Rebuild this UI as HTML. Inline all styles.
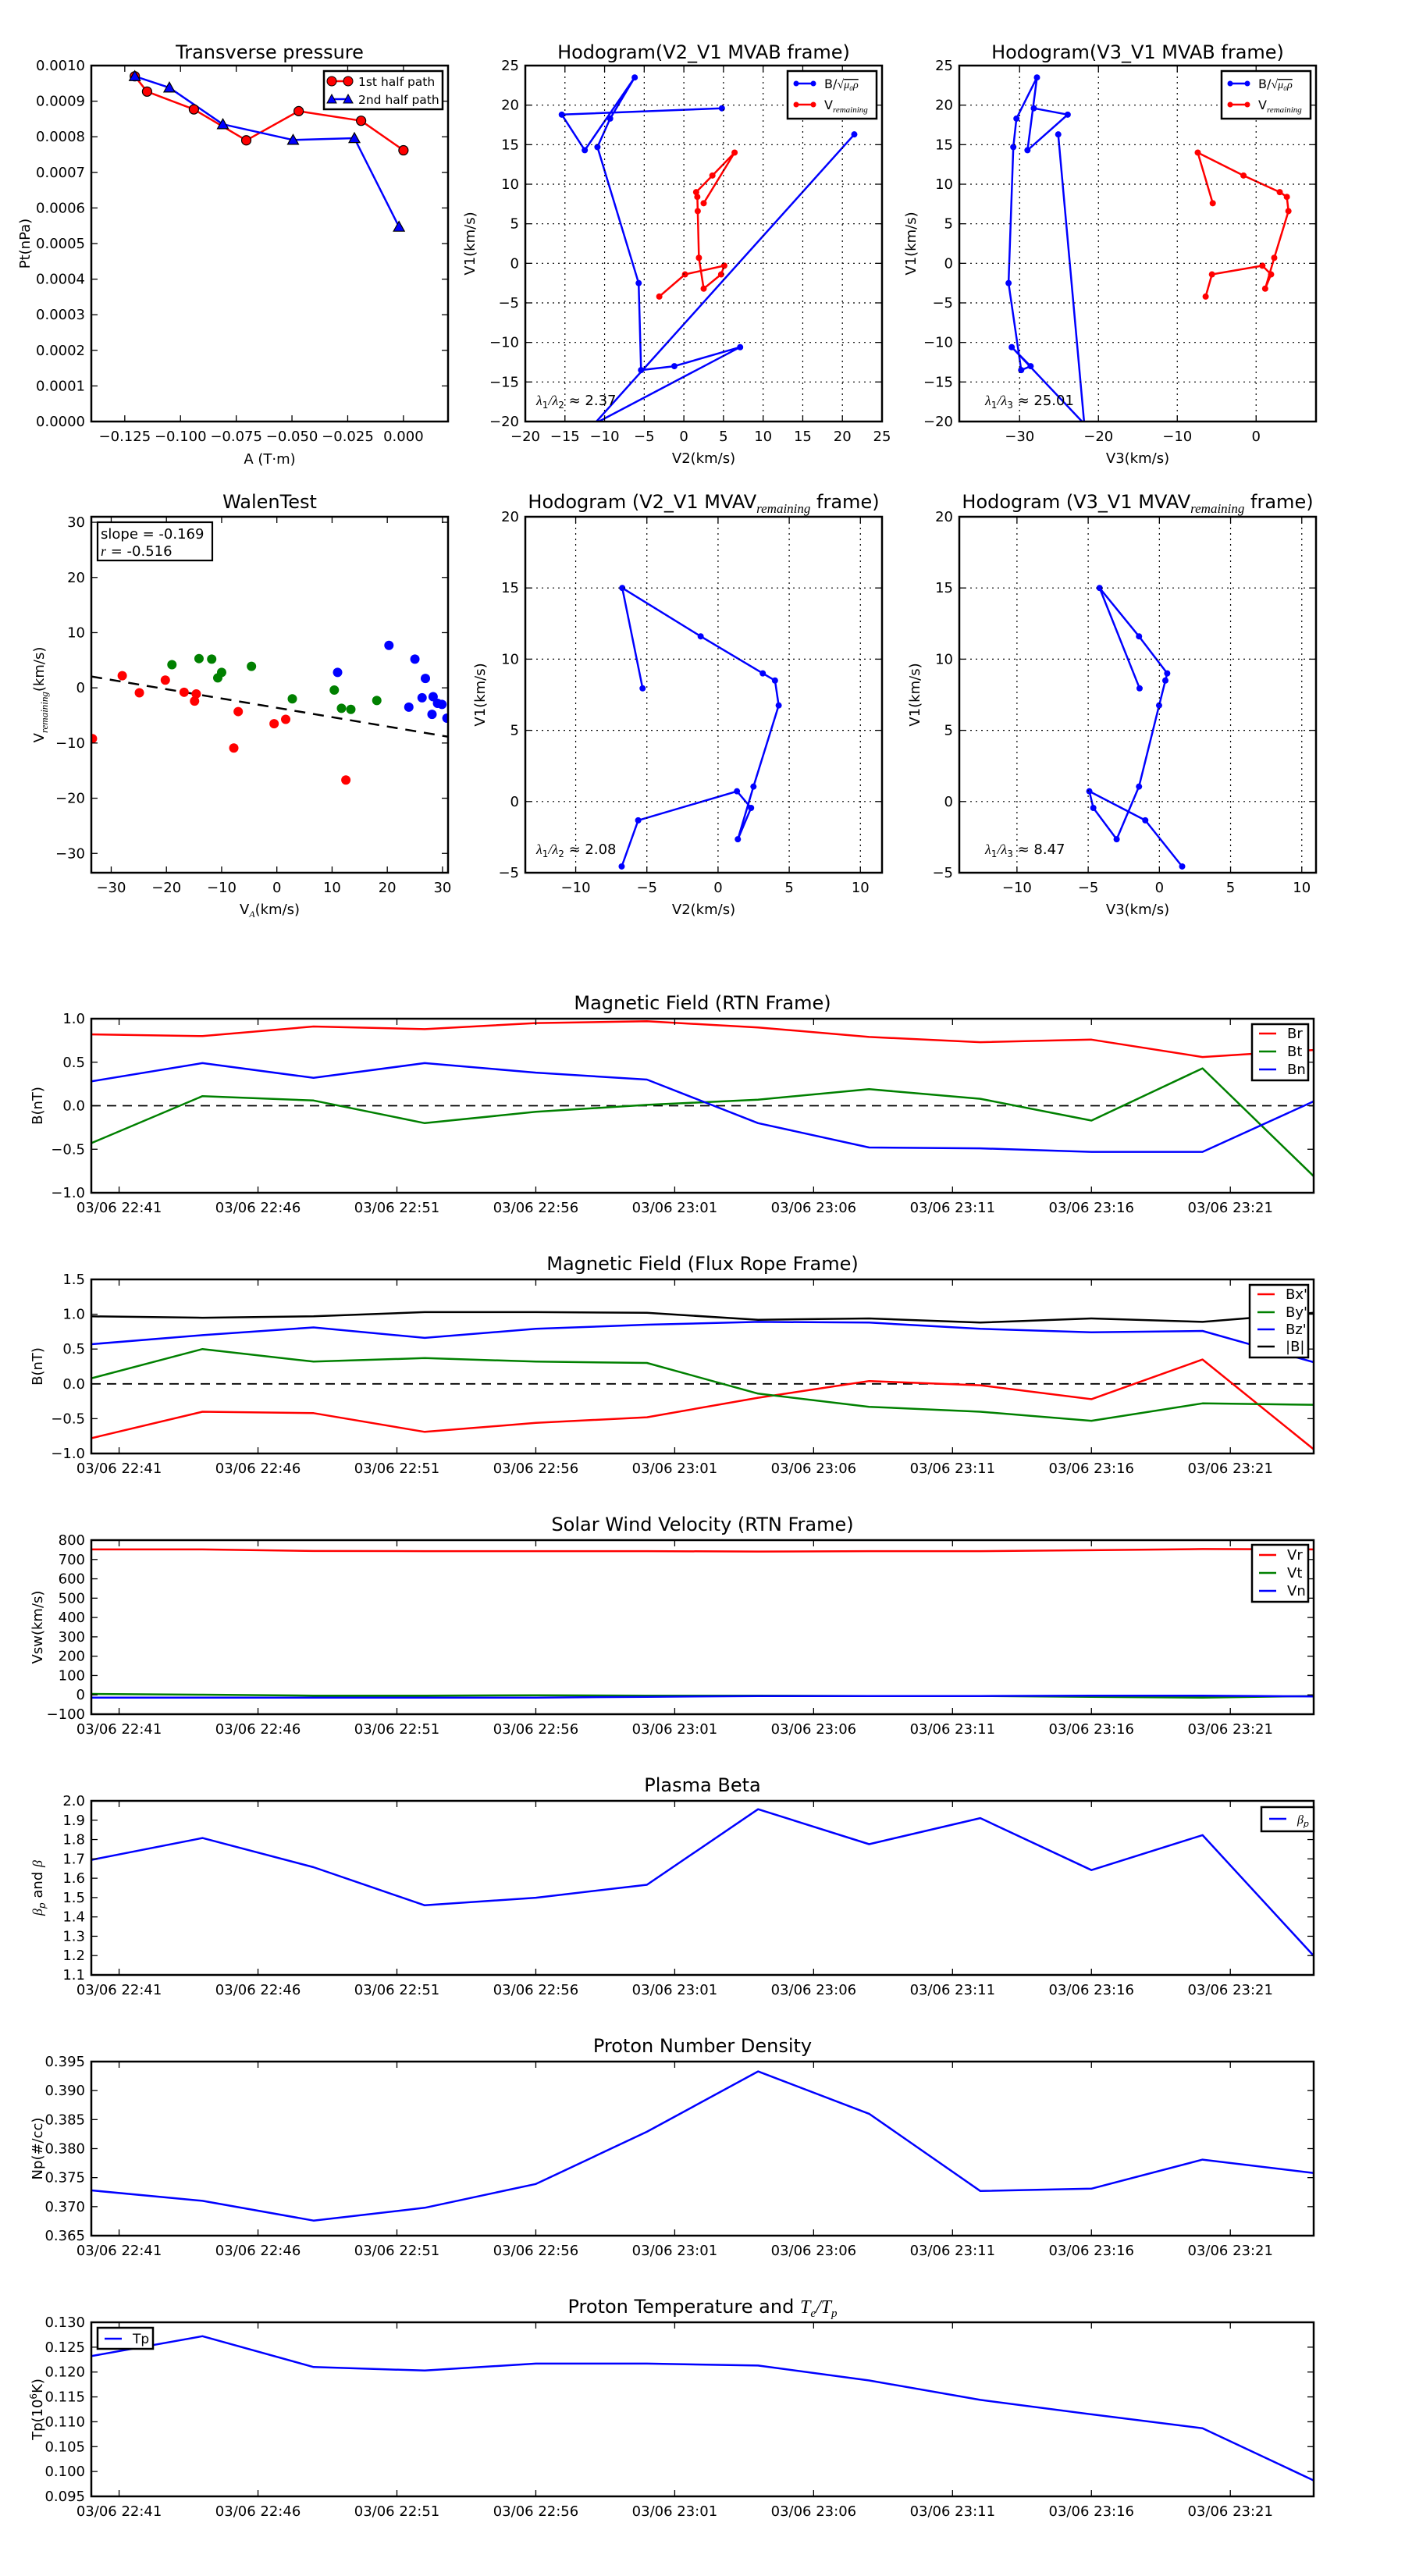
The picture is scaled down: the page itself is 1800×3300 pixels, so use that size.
<!DOCTYPE html>
<html><head><meta charset="utf-8"><title>MVA analysis figure</title>
<style>
html,body{margin:0;padding:0;background:#fff;}
svg{display:block;font-family:"DejaVu Sans","Liberation Sans",sans-serif;}
</style></head>
<body>
<svg id="fig" xmlns="http://www.w3.org/2000/svg" width="1800" height="3300" viewBox="0 0 1800 3300">
<rect x="0" y="0" width="1800" height="3300" fill="#fff"/>
</svg>
<script>
// ---------- DATA ----------
// Transverse pressure
const ptA1 = [-0.1205,-0.115,-0.094,-0.0705,-0.047,-0.019,0.0];
const ptP1 = [0.00097,0.000927,0.000877,0.00079,0.000872,0.000845,0.000762];
const ptA2 = [-0.1205,-0.105,-0.081,-0.0495,-0.022,-0.002];
const ptP2 = [0.00097,0.000938,0.000835,0.000791,0.000796,0.000547];
// MVAB hodogram
const bV1 = [19.6,18.8,14.3,23.5,18.3,14.7,-2.5,-13.5,-13.0,-10.6,-20.3,16.3];
const bV2 = [4.8,-15.4,-12.5,-6.2,-9.3,-10.9,-5.7,-5.4,-1.2,7.1,-11.3,21.5];
const bV3 = [-28.2,-23.9,-29.0,-27.8,-30.4,-30.8,-31.4,-29.8,-28.6,-31.0,-21.8,-25.1];
const rV1 = [7.6,14.0,11.1,9.0,8.4,6.6,0.7,-3.2,-1.4,-0.3,-1.4,-4.2];
const rV2 = [2.5,6.4,3.6,1.55,1.7,1.75,1.9,2.5,4.7,5.1,0.15,-3.1];
const rV3 = [-5.5,-7.4,-1.6,3.0,3.9,4.1,2.3,1.15,1.9,0.8,-5.6,-6.4];
// MVAV hodogram
const mV1 = [7.95,15.0,11.6,9.0,8.5,6.75,1.05,-2.65,-0.45,0.72,-1.32,-4.56];
const mV2 = [-5.3,-6.73,-1.22,3.14,4.0,4.26,2.49,1.39,2.32,1.33,-5.61,-6.77];
const mV3 = [-1.39,-4.2,-1.43,0.55,0.42,-0.02,-1.43,-3.0,-4.64,-4.92,-0.99,1.6];
// Walen test
const wRedX = [-33.4,-28.0,-24.9,-20.2,-16.8,-14.6,-14.9,-7.0,-7.8,-0.5,1.6,12.5];
const wRedY = [-9.2,2.2,-0.9,1.4,-0.8,-1.1,-2.4,-4.3,-10.9,-6.5,-5.7,-16.7];
const wGrnX = [-19.0,-14.1,-11.8,-10.7,-10.0,-4.6,2.8,10.4,11.7,13.4,18.1];
const wGrnY = [4.2,5.3,5.2,1.8,2.8,3.9,-2.0,-0.4,-3.7,-3.9,-2.3];
const wBluX = [11.0,20.3,23.9,25.0,26.3,26.9,28.1,28.3,29.1,29.9,30.8];
const wBluY = [2.8,7.7,-3.5,5.2,-1.8,1.7,-4.8,-1.6,-2.8,-3.0,-5.5];
const wSlope = -0.169;
const wIntercept = -3.62;
// time series (minutes after 22:40)
const tMin = [0,4,8,12,16,20,24,28,32,36,40,44];
const tickMin = [1,6,11,16,21,26,31,36,41];
const tickLabels = ["03/06 22:41","03/06 22:46","03/06 22:51","03/06 22:56","03/06 23:01","03/06 23:06","03/06 23:11","03/06 23:16","03/06 23:21"];
const Br = [0.82,0.80,0.91,0.88,0.95,0.97,0.90,0.79,0.73,0.76,0.56,0.64];
const Bt = [-0.43,0.11,0.06,-0.20,-0.07,0.01,0.07,0.19,0.08,-0.17,0.43,-0.81];
const Bn = [0.28,0.49,0.32,0.49,0.38,0.30,-0.20,-0.48,-0.49,-0.53,-0.53,0.05];
const Bx = [-0.78,-0.40,-0.42,-0.69,-0.56,-0.48,-0.20,0.04,-0.02,-0.22,0.35,-0.94];
const By = [0.08,0.50,0.32,0.37,0.32,0.30,-0.14,-0.33,-0.40,-0.53,-0.28,-0.30];
const Bz = [0.57,0.70,0.81,0.66,0.79,0.85,0.89,0.88,0.79,0.74,0.76,0.31];
const Bmag = [0.97,0.95,0.97,1.03,1.03,1.02,0.92,0.94,0.88,0.94,0.89,1.02];
const Vr = [752,752,744,743,743,743,741,743,743,748,754,752];
const Vt = [5,1,-4,-4,-2,-4,-4,-6,-6,-10,-14,-6];
const Vn = [-14,-14,-14,-14,-14,-10,-6,-6,-6,-4,-4,-8];
const betaP = [1.695,1.808,1.657,1.460,1.499,1.566,1.957,1.776,1.911,1.642,1.823,1.199];
const Np = [0.3728,0.3710,0.3676,0.3698,0.3739,0.3829,0.3933,0.3860,0.3727,0.3731,0.3781,0.3758];
const Tp = [0.1232,0.1272,0.1210,0.1203,0.1217,0.1217,0.1213,0.1183,0.1144,0.1115,0.1087,0.0982];

// ---------- HELPERS ----------
const NS = "http://www.w3.org/2000/svg";
const svg = document.getElementById('fig');
function el(tag, attrs, parent){
  const e = document.createElementNS(NS, tag);
  for (const k in attrs) e.setAttribute(k, attrs[k]);
  (parent||svg).appendChild(e);
  return e;
}
function lin(d0,d1,r0,r1){ return v => r0 + (v-d0)/(d1-d0)*(r1-r0); }
let clipId = 0;
function makeAxes(name, x0,y0,x1,y1, xd, yd){
  const g = el('g',{});
  
  
  const id = 'clip'+(clipId++);
  const cp = el('clipPath',{id:id},g);
  el('rect',{x:x0,y:y0,width:x1-x0,height:y1-y0},cp);
  const plot = el('g',{'clip-path':'url(#'+id+')'},g);
  return {g, plot, x0,y0,x1,y1, sx: lin(xd[0],xd[1],x0,x1), sy: lin(yd[0],yd[1],y1,y0)};
}
function frame(ax){
  const r = el('rect',{x:ax.x0,y:ax.y0,width:ax.x1-ax.x0,height:ax.y1-ax.y0,fill:'none',stroke:'#000','stroke-width':2.5},ax.g);
  
  
}
function xTicks(ax, vals, labels, grid, size){
  vals.forEach((v,i)=>{
    const x = ax.sx(v);
    if (grid) el('line',{x1:x,y1:ax.y0,x2:x,y2:ax.y1,stroke:'#000','stroke-width':1.2,'stroke-dasharray':'2,5'},ax.g);
    el('line',{x1:x,y1:ax.y1,x2:x,y2:ax.y1-8,stroke:'#000','stroke-width':1.3},ax.g);
    el('line',{x1:x,y1:ax.y0,x2:x,y2:ax.y0+8,stroke:'#000','stroke-width':1.3},ax.g);
    const t = el('text',{x:x,y:ax.y1+25,'text-anchor':'middle','font-size':size||18},ax.g);
    t.textContent = labels[i];
    
    
  });
}
function yTicks(ax, vals, labels, grid, size){
  vals.forEach((v,i)=>{
    const y = ax.sy(v);
    if (grid) el('line',{x1:ax.x0,y1:y,x2:ax.x1,y2:y,stroke:'#000','stroke-width':1.2,'stroke-dasharray':'2,5'},ax.g);
    el('line',{x1:ax.x0,y1:y,x2:ax.x0+8,y2:y,stroke:'#000','stroke-width':1.3},ax.g);
    el('line',{x1:ax.x1,y1:y,x2:ax.x1-8,y2:y,stroke:'#000','stroke-width':1.3},ax.g);
    const t = el('text',{x:ax.x0-8,y:y+6,'text-anchor':'end','font-size':size||18},ax.g);
    t.textContent = labels[i];
    
    
  });
}
function title(ax, txt, y){
  const t = el('text',{x:(ax.x0+ax.x1)/2,y:y,'text-anchor':'middle','font-size':24},ax.g);
  t.innerHTML = txt;
  
  
  return t;
}
function xLabel(ax, txt, y){
  const t = el('text',{x:(ax.x0+ax.x1)/2,y:y,'text-anchor':'middle','font-size':18},ax.g);
  t.innerHTML = txt;
  
  
}
function yLabel(ax, txt, x){
  const cy = (ax.y0+ax.y1)/2;
  const t = el('text',{x:x,y:cy,'text-anchor':'middle','font-size':18,transform:'rotate(-90 '+x+' '+cy+')'},ax.g);
  t.innerHTML = txt;
  
  
}
function line(ax, xs, ys, color, w, name){
  const pts = xs.map((x,i)=>ax.sx(x).toFixed(1)+','+ax.sy(ys[i]).toFixed(1)).join(' ');
  const p = el('polyline',{points:pts,fill:'none',stroke:color,'stroke-width':w||2.5,'stroke-linejoin':'round'},ax.plot);
  
  
}
function dots(ax, xs, ys, color, r, stroke, name){
  xs.forEach((x,i)=>{
    const c = el('circle',{cx:ax.sx(x),cy:ax.sy(ys[i]),r:r,fill:color,stroke:stroke||'none','stroke-width':1.2},ax.plot);
    
    
  });
}
function tris(ax, xs, ys, color, s, name){
  xs.forEach((x,i)=>{
    const cx = ax.sx(x), cy = ax.sy(ys[i]);
    const p = el('polygon',{points:`${cx},${cy-s} ${cx-s},${cy+s*0.8} ${cx+s},${cy+s*0.8}`,fill:color,stroke:'#000','stroke-width':1.2},ax.plot);
    
    
  });
}
function legendBox(ax, x0,y0,x1,y1){
  const r = el('rect',{x:x0,y:y0,width:x1-x0,height:y1-y0,fill:'#fff',stroke:'#000','stroke-width':2.5},ax.g);
  
  
}
function legendEntry(ax, x, y, color, txt, marker, size){
  el('line',{x1:x,y1:y,x2:x+22,y2:y,stroke:color,'stroke-width':2.5},ax.g);
  if (marker==='dot'){ el('circle',{cx:x,cy:y,r:3.5,fill:color},ax.g); el('circle',{cx:x+22,cy:y,r:3.5,fill:color},ax.g); }
  const t = el('text',{x:x+36,y:y+6,'font-size':size||18},ax.g);
  t.innerHTML = txt;
  
  
}
const SUBREM = '<tspan font-family="Liberation Serif,serif" font-style="italic" font-size="13" dy="5">remaining</tspan>';

// ---------- Transverse pressure ----------
{
  const ax = makeAxes('transverse-pressure-chart',117,84,574,540,[-0.14,0.02],[0,0.001]);
  title(ax,'Transverse pressure',75);
  xTicks(ax,[-0.125,-0.1,-0.075,-0.05,-0.025,0],['\u22120.125','\u22120.100','\u22120.075','\u22120.050','\u22120.025','0.000']);
  yTicks(ax,[0,0.0001,0.0002,0.0003,0.0004,0.0005,0.0006,0.0007,0.0008,0.0009,0.001],['0.0000','0.0001','0.0002','0.0003','0.0004','0.0005','0.0006','0.0007','0.0008','0.0009','0.0010']);
  xLabel(ax,'A (T\u00b7m)',594);
  yLabel(ax,'Pt(nPa)',38);
  line(ax,ptA1,ptP1,'#ff0000',2.5,'first-half-path-line');
  line(ax,ptA2,ptP2,'#0000ff',2.5,'second-half-path-line');
  dots(ax,ptA1,ptP1,'#ff0000',6,'#000','first-half-point');
  tris(ax,ptA2,ptP2,'#0000ff',7,'second-half-point');
  frame(ax);
  legendBox(ax,415,91,567,140);
  el('line',{x1:425,y1:104,x2:446,y2:104,stroke:'#f00','stroke-width':2.5},ax.g);
  el('circle',{cx:425,cy:104,r:6,fill:'#f00',stroke:'#000'},ax.g);el('circle',{cx:446,cy:104,r:6,fill:'#f00',stroke:'#000'},ax.g);
  el('line',{x1:425,y1:127,x2:446,y2:127,stroke:'#00f','stroke-width':2.5},ax.g);
  el('polygon',{points:'425,121 419,132 431,132',fill:'#00f',stroke:'#000'},ax.g);
  el('polygon',{points:'446,121 440,132 452,132',fill:'#00f',stroke:'#000'},ax.g);
  let t = el('text',{x:459,y:110,'font-size':15.5},ax.g); t.textContent='1st half path';
   
  t = el('text',{x:459,y:133,'font-size':15.5},ax.g); t.textContent='2nd half path';
   
}
// ---------- Hodogram V2_V1 MVAB ----------
function hodoLegend(ax,x0){
  legendBox(ax,x0,91,x0+114,152);
  legendEntry(ax,x0+11,107,'#0000ff','B/<tspan font-family="Liberation Serif,serif">\u221a</tspan><tspan font-family="Liberation Serif,serif" font-style="italic" font-size="14" text-decoration="overline">\u03bc\u2080\u03c1</tspan>','dot',16);
  legendEntry(ax,x0+11,134,'#ff0000','V'+'<tspan font-family="Liberation Serif,serif" font-style="italic" font-size="11" dy="4">remaining</tspan>','dot',16);
}
{
  const ax = makeAxes('hodogram-v2-v1-mvab',673,84,1130,540,[-20,25],[-20,25]);
  title(ax,'Hodogram(V2_V1 MVAB frame)',75);
  xTicks(ax,[-20,-15,-10,-5,0,5,10,15,20,25],['\u221220','\u221215','\u221210','\u22125','0','5','10','15','20','25'],true);
  yTicks(ax,[-20,-15,-10,-5,0,5,10,15,20,25],['\u221220','\u221215','\u221210','\u22125','0','5','10','15','20','25'],true);
  xLabel(ax,'V2(km/s)',593);
  yLabel(ax,'V1(km/s)',608);
  line(ax,bV2,bV1,'#0000ff',2.5,'b-hodogram-line');
  dots(ax,bV2,bV1,'#0000ff',4,null,'b-hodogram-point');
  line(ax,rV2,rV1,'#ff0000',2.5,'v-remaining-line');
  dots(ax,rV2,rV1,'#ff0000',4,null,'v-remaining-point');
  frame(ax);
  hodoLegend(ax,1009);
  const t = el('text',{x:687,y:519,'font-size':18},ax.g);
  t.innerHTML='<tspan font-family="Liberation Serif,serif" font-style="italic">\u03bb</tspan><tspan font-size="12" dy="4">1</tspan><tspan dy="-4" font-family="Liberation Serif,serif" font-style="italic">/\u03bb</tspan><tspan font-size="12" dy="4">2</tspan><tspan dy="-4"> \u2248 2.37</tspan>';
   
}
// ---------- Hodogram V3_V1 MVAB ----------
{
  const ax = makeAxes('hodogram-v3-v1-mvab',1229,84,1686,540,[-37.65,7.6],[-20,25]);
  title(ax,'Hodogram(V3_V1 MVAB frame)',75);
  xTicks(ax,[-30,-20,-10,0],['\u221230','\u221220','\u221210','0'],true);
  yTicks(ax,[-20,-15,-10,-5,0,5,10,15,20,25],['\u221220','\u221215','\u221210','\u22125','0','5','10','15','20','25'],true);
  xLabel(ax,'V3(km/s)',593);
  yLabel(ax,'V1(km/s)',1173);
  line(ax,bV3,bV1,'#0000ff',2.5,'b-hodogram-line');
  dots(ax,bV3,bV1,'#0000ff',4,null,'b-hodogram-point');
  line(ax,rV3,rV1,'#ff0000',2.5,'v-remaining-line');
  dots(ax,rV3,rV1,'#ff0000',4,null,'v-remaining-point');
  frame(ax);
  hodoLegend(ax,1565);
  const t = el('text',{x:1262,y:519,'font-size':18},ax.g);
  t.innerHTML='<tspan font-family="Liberation Serif,serif" font-style="italic">\u03bb</tspan><tspan font-size="12" dy="4">1</tspan><tspan dy="-4" font-family="Liberation Serif,serif" font-style="italic">/\u03bb</tspan><tspan font-size="12" dy="4">3</tspan><tspan dy="-4"> \u2248 25.01</tspan>';
   
}
// ---------- Walen test ----------
{
  const ax = makeAxes('walen-test-chart',117,662,574,1118,[-33.6,31],[-33.5,31]);
  title(ax,'WalenTest',651);
  xTicks(ax,[-30,-20,-10,0,10,20,30],['\u221230','\u221220','\u221210','0','10','20','30']);
  yTicks(ax,[-30,-20,-10,0,10,20,30],['\u221230','\u221220','\u221210','0','10','20','30']);
  xLabel(ax,'V<tspan font-family="Liberation Serif,serif" font-style="italic" font-size="12" dy="4">A</tspan><tspan dy="-4">(km/s)</tspan>',1171);
  yLabel(ax,'V'+SUBREM+'<tspan dy="-5">(km/s)</tspan>',56);
  const fx = [-33.6,31];
  const fy = fx.map(x => wSlope*x + wIntercept);
  const p = el('line',{x1:ax.sx(fx[0]),y1:ax.sy(fy[0]),x2:ax.sx(fx[1]),y2:ax.sy(fy[1]),stroke:'#000','stroke-width':2.5,'stroke-dasharray':'14,10'},ax.plot);
   
  dots(ax,wRedX,wRedY,'#ff0000',6,null,'walen-point-red');
  dots(ax,wGrnX,wGrnY,'#008000',6,null,'walen-point-green');
  dots(ax,wBluX,wBluY,'#0000ff',6,null,'walen-point-blue');
  frame(ax);
  const r = el('rect',{x:125,y:669,width:147,height:49,fill:'#fff',stroke:'#000','stroke-width':2.2},ax.g);
   
  let t = el('text',{x:129,y:690,'font-size':18},ax.g); t.textContent='slope = -0.169';
   
  t = el('text',{x:129,y:712,'font-size':18},ax.g); t.innerHTML='<tspan font-family="Liberation Serif,serif" font-style="italic">r</tspan> = -0.516';
   
}
// ---------- Hodogram MVAV V2 ----------
{
  const ax = makeAxes('hodogram-v2-v1-mvav',673,662,1130,1118,[-13.54,11.52],[-5,20]);
  title(ax,'Hodogram (V2_V1 MVAV'+'<tspan font-family="Liberation Serif,serif" font-style="italic" font-size="17" dy="6">remaining</tspan><tspan dy="-6"> frame)</tspan>',651);
  xTicks(ax,[-10,-5,0,5,10],['\u221210','\u22125','0','5','10'],true);
  yTicks(ax,[-5,0,5,10,15,20],['\u22125','0','5','10','15','20'],true);
  xLabel(ax,'V2(km/s)',1171);
  yLabel(ax,'V1(km/s)',621);
  line(ax,mV2,mV1,'#0000ff',2.5,'mvav-hodogram-line');
  dots(ax,mV2,mV1,'#0000ff',4,null,'mvav-hodogram-point');
  frame(ax);
  const t = el('text',{x:687,y:1094,'font-size':18},ax.g);
  t.innerHTML='<tspan font-family="Liberation Serif,serif" font-style="italic">\u03bb</tspan><tspan font-size="12" dy="4">1</tspan><tspan dy="-4" font-family="Liberation Serif,serif" font-style="italic">/\u03bb</tspan><tspan font-size="12" dy="4">2</tspan><tspan dy="-4"> \u2248 2.08</tspan>';
   
}
// ---------- Hodogram MVAV V3 ----------
{
  const ax = makeAxes('hodogram-v3-v1-mvav',1229,662,1686,1118,[-14.05,11.0],[-5,20]);
  title(ax,'Hodogram (V3_V1 MVAV'+'<tspan font-family="Liberation Serif,serif" font-style="italic" font-size="17" dy="6">remaining</tspan><tspan dy="-6"> frame)</tspan>',651);
  xTicks(ax,[-10,-5,0,5,10],['\u221210','\u22125','0','5','10'],true);
  yTicks(ax,[-5,0,5,10,15,20],['\u22125','0','5','10','15','20'],true);
  xLabel(ax,'V3(km/s)',1171);
  yLabel(ax,'V1(km/s)',1178);
  line(ax,mV3,mV1,'#0000ff',2.5,'mvav-hodogram-line');
  dots(ax,mV3,mV1,'#0000ff',4,null,'mvav-hodogram-point');
  frame(ax);
  const t = el('text',{x:1262,y:1094,'font-size':18},ax.g);
  t.innerHTML='<tspan font-family="Liberation Serif,serif" font-style="italic">\u03bb</tspan><tspan font-size="12" dy="4">1</tspan><tspan dy="-4" font-family="Liberation Serif,serif" font-style="italic">/\u03bb</tspan><tspan font-size="12" dy="4">3</tspan><tspan dy="-4"> \u2248 8.47</tspan>';
   
}
// ---------- Time series ----------
function tsAxes(name, top, yd, yvals, ylabs, ttl, ylab){
  const ax = makeAxes(name,117,top,1683,top+223,[0,44],yd);
  title(ax,ttl,top-12);
  xTicks(ax,tickMin,tickLabels,false,18);
  yTicks(ax,yvals,ylabs,false,18);
  yLabel(ax,ylab,54);
  return ax;
}
function zeroLine(ax){
  const z = el('line',{x1:ax.x0,y1:ax.sy(0),x2:ax.x1,y2:ax.sy(0),stroke:'#000','stroke-width':1.8,'stroke-dasharray':'12,8'},ax.plot);
   
}
{
  const ax = tsAxes('magnetic-field-rtn-chart',1305,[-1,1],[-1,-0.5,0,0.5,1],['\u22121.0','\u22120.5','0.0','0.5','1.0'],'Magnetic Field (RTN Frame)','B(nT)');
  zeroLine(ax);
  line(ax,tMin,Br,'#ff0000',2.5,'br-series');
  line(ax,tMin,Bt,'#008000',2.5,'bt-series');
  line(ax,tMin,Bn,'#0000ff',2.5,'bn-series');
  frame(ax);
  legendBox(ax,1604,1312,1676,1384);
  legendEntry(ax,1613,1324,'#ff0000','Br');
  legendEntry(ax,1613,1347,'#008000','Bt');
  legendEntry(ax,1613,1370,'#0000ff','Bn');
}
{
  const ax = tsAxes('magnetic-field-flux-rope-chart',1639,[-1,1.5],[-1,-0.5,0,0.5,1,1.5],['\u22121.0','\u22120.5','0.0','0.5','1.0','1.5'],'Magnetic Field (Flux Rope Frame)','B(nT)');
  zeroLine(ax);
  line(ax,tMin,Bx,'#ff0000',2.5,'bx-series');
  line(ax,tMin,By,'#008000',2.5,'by-series');
  line(ax,tMin,Bz,'#0000ff',2.5,'bz-series');
  line(ax,tMin,Bmag,'#000000',2.5,'bmag-series');
  frame(ax);
  legendBox(ax,1601,1646,1676,1739);
  legendEntry(ax,1611,1658,'#ff0000',"Bx'");
  legendEntry(ax,1611,1681,'#008000',"By'");
  legendEntry(ax,1611,1703,'#0000ff',"Bz'");
  legendEntry(ax,1611,1725,'#000000','|B|');
}
{
  const ax = tsAxes('solar-wind-velocity-chart',1973,[-100,800],[-100,0,100,200,300,400,500,600,700,800],['\u2212100','0','100','200','300','400','500','600','700','800'],'Solar Wind Velocity (RTN Frame)','Vsw(km/s)');
  line(ax,tMin,Vr,'#ff0000',2.5,'vr-series');
  line(ax,tMin,Vt,'#008000',2.5,'vt-series');
  line(ax,tMin,Vn,'#0000ff',2.5,'vn-series');
  frame(ax);
  legendBox(ax,1604,1979,1676,2052);
  legendEntry(ax,1613,1992,'#ff0000','Vr');
  legendEntry(ax,1613,2015,'#008000','Vt');
  legendEntry(ax,1613,2038,'#0000ff','Vn');
}
{
  const ax = tsAxes('plasma-beta-chart',2307,[1.1,2.0],[1.1,1.2,1.3,1.4,1.5,1.6,1.7,1.8,1.9,2.0],['1.1','1.2','1.3','1.4','1.5','1.6','1.7','1.8','1.9','2.0'],'Plasma Beta','<tspan font-family="Liberation Serif,serif" font-style="italic">\u03b2</tspan><tspan font-size="12" dy="4" font-style="italic">p</tspan><tspan dy="-4"> and </tspan><tspan font-family="Liberation Serif,serif" font-style="italic">\u03b2</tspan>');
  line(ax,tMin,betaP,'#0000ff',2.5,'beta-p-series');
  frame(ax);
  legendBox(ax,1616,2315,1683,2346);
  legendEntry(ax,1626,2330,'#0000ff','<tspan font-family="Liberation Serif,serif" font-style="italic">\u03b2</tspan><tspan font-size="11" dy="4" font-style="italic">p</tspan>',null,16);
}
{
  const ax = tsAxes('proton-density-chart',2641,[0.365,0.395],[0.365,0.37,0.375,0.38,0.385,0.39,0.395],['0.365','0.370','0.375','0.380','0.385','0.390','0.395'],'Proton Number Density','Np(#/cc)');
  line(ax,tMin,Np,'#0000ff',2.5,'np-series');
  frame(ax);
}
{
  const ax = tsAxes('proton-temperature-chart',2975,[0.095,0.13],[0.095,0.1,0.105,0.11,0.115,0.12,0.125,0.13],['0.095','0.100','0.105','0.110','0.115','0.120','0.125','0.130'],'Proton Temperature and <tspan font-family="Liberation Serif,serif" font-style="italic">T</tspan><tspan font-family="Liberation Serif,serif" font-style="italic" font-size="15" dy="5">e</tspan><tspan dy="-5" font-family="Liberation Serif,serif" font-style="italic">/T</tspan><tspan font-family="Liberation Serif,serif" font-style="italic" font-size="15" dy="5">p</tspan>','Tp(10<tspan font-size="12" dy="-7">6</tspan><tspan dy="7">K)</tspan>');
  line(ax,tMin,Tp,'#0000ff',2.5,'tp-series');
  frame(ax);
  legendBox(ax,125,2982,196,3009);
  legendEntry(ax,134,2996,'#0000ff','Tp',null,17);
}
</script>
</body></html>
